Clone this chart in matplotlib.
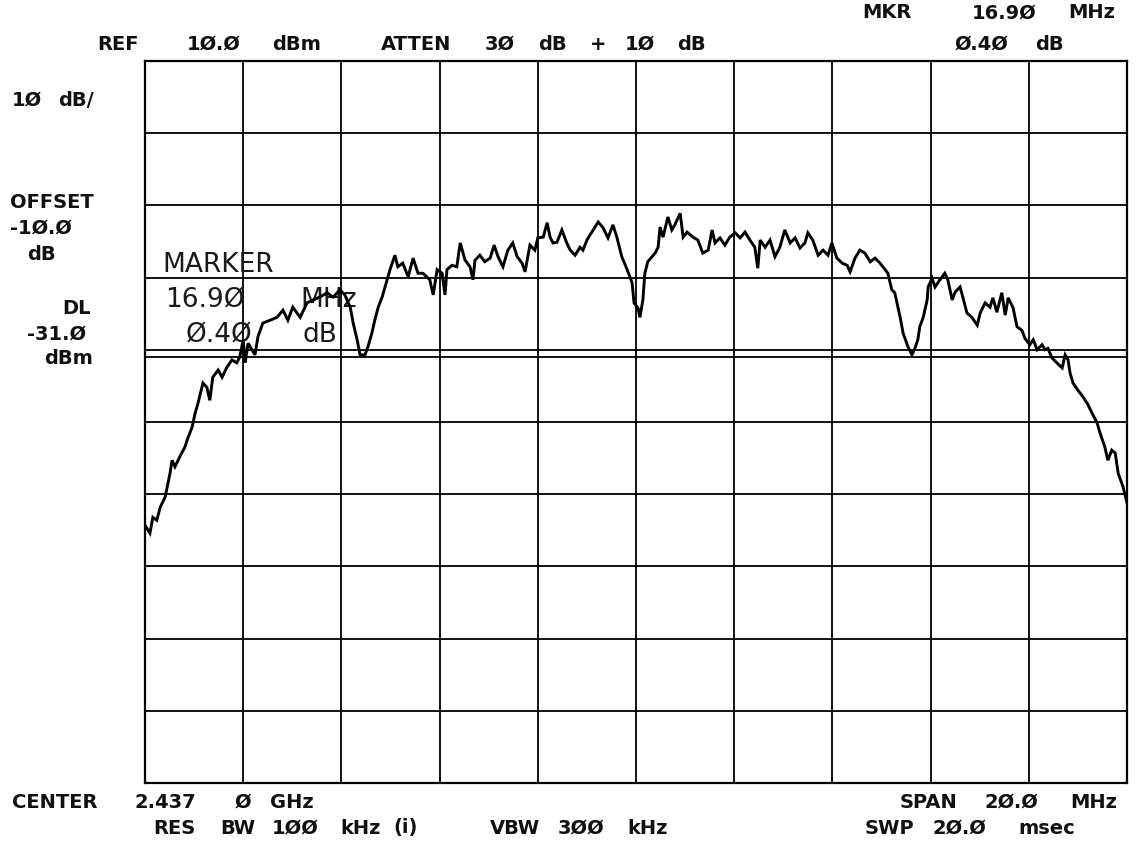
import matplotlib
matplotlib.use("Agg")
import matplotlib.pyplot as plt

# Spectrum analyzer sweep: frequency offset from centre (MHz) and level (dBm)
freq_mhz = [
    -10.00, -9.90, -9.84, -9.76, -9.69, -9.59, -9.49, -9.45, -9.39, -9.29,
    -9.19, -9.12, -9.04, -8.98, -8.92, -8.82, -8.74, -8.68, -8.62, -8.51,
    -8.43, -8.33, -8.23, -8.13, -8.07, -8.00, -7.96, -7.90, -7.76, -7.70,
    -7.60, -7.45, -7.31, -7.19, -7.09, -6.99, -6.84, -6.70, -6.58, -6.44,
    -6.29, -6.17, -6.03, -5.93, -5.82, -5.76, -5.68, -5.62, -5.52, -5.46,
    -5.38, -5.32, -5.25, -5.17, -5.07, -5.01, -4.91, -4.85, -4.75, -4.64,
    -4.54, -4.44, -4.34, -4.20, -4.13, -4.05, -3.95, -3.89, -3.85, -3.75,
    -3.65, -3.58, -3.48, -3.38, -3.32, -3.28, -3.18, -3.08, -2.97, -2.89,
    -2.81, -2.71, -2.61, -2.51, -2.42, -2.32, -2.26, -2.16, -2.06, -2.00,
    -1.89, -1.81, -1.75, -1.69, -1.61, -1.51, -1.41, -1.34, -1.24, -1.14,
    -1.08, -1.00, -0.90, -0.77, -0.67, -0.57, -0.47, -0.39, -0.29, -0.18,
    -0.08, -0.04, 0.04, 0.08, 0.14, 0.18, 0.24, 0.39, 0.45, 0.49,
    0.55, 0.65, 0.73, 0.79, 0.90, 0.96, 1.04, 1.16, 1.26, 1.36,
    1.47, 1.55, 1.61, 1.71, 1.81, 1.91, 2.02, 2.12, 2.22, 2.32,
    2.42, 2.48, 2.53, 2.63, 2.73, 2.83, 2.93, 3.03, 3.14, 3.24,
    3.34, 3.44, 3.50, 3.60, 3.71, 3.81, 3.91, 3.99, 4.09, 4.20,
    4.30, 4.36, 4.46, 4.56, 4.66, 4.77, 4.87, 4.97, 5.13, 5.21,
    5.27, 5.38, 5.44, 5.54, 5.62, 5.68, 5.74, 5.78, 5.85, 5.93,
    5.95, 6.03, 6.09, 6.19, 6.29, 6.35, 6.44, 6.50, 6.60, 6.66,
    6.74, 6.84, 6.95, 7.01, 7.11, 7.21, 7.27, 7.35, 7.45, 7.52,
    7.58, 7.68, 7.76, 7.86, 7.92, 8.02, 8.09, 8.17, 8.27, 8.33,
    8.39, 8.47, 8.57, 8.68, 8.74, 8.80, 8.84, 8.90, 9.00, 9.08,
    9.19, 9.29, 9.39, 9.45, 9.55, 9.61, 9.69, 9.76, 9.82, 9.92,
    10.00,
]
level_dbm = [
    -54.3, -55.4, -53.2, -53.6, -51.8, -50.4, -47.1, -45.3, -46.2, -44.8,
    -43.5, -42.1, -40.7, -38.8, -37.4, -34.6, -35.2, -37.0, -33.8, -32.8,
    -33.8, -32.4, -31.4, -31.8, -31.0, -28.6, -31.8, -29.1, -30.7, -28.2,
    -26.3, -25.9, -25.5, -24.5, -25.9, -24.1, -25.5, -23.5, -23.1, -22.7,
    -22.1, -22.7, -21.7, -22.4, -24.1, -26.3, -28.6, -30.7, -30.7, -29.6,
    -27.7, -25.9, -24.1, -22.7, -20.3, -18.9, -16.9, -18.5, -18.0, -19.9,
    -17.3, -19.4, -19.4, -20.3, -22.4, -18.9, -19.4, -22.4, -18.9, -18.3,
    -18.5, -15.2, -17.6, -18.5, -20.3, -17.6, -16.9, -17.8, -17.3, -15.5,
    -17.1, -18.5, -16.2, -15.2, -17.1, -18.0, -19.2, -15.5, -16.2, -14.5,
    -14.4, -12.4, -14.4, -15.2, -15.1, -13.4, -15.2, -16.2, -16.9, -15.8,
    -16.2, -14.8, -13.7, -12.3, -13.1, -14.5, -12.7, -14.4, -17.1, -18.9,
    -20.7, -23.5, -24.2, -25.5, -23.1, -19.4, -17.8, -16.6, -15.8, -13.0,
    -14.4, -11.6, -13.4, -12.7, -11.1, -14.4, -13.7, -14.4, -14.8, -16.6,
    -16.2, -13.4, -15.2, -14.5, -15.5, -14.4, -13.8, -14.5, -13.7, -14.8,
    -15.8, -18.7, -14.8, -15.8, -14.8, -17.1, -15.8, -13.4, -15.2, -14.5,
    -15.9, -15.2, -13.8, -14.8, -16.9, -16.2, -16.9, -15.2, -17.3, -18.0,
    -18.3, -19.2, -17.3, -16.2, -16.6, -17.8, -17.3, -18.0, -19.4, -21.7,
    -22.1, -25.5, -27.7, -29.6, -30.7, -29.8, -28.6, -26.8, -25.5, -23.1,
    -21.3, -20.1, -21.3, -20.3, -19.4, -20.3, -23.1, -22.0, -21.3, -22.8,
    -24.9, -25.5, -26.6, -24.9, -23.5, -24.1, -22.8, -24.8, -22.1, -25.2,
    -22.8, -24.2, -26.8, -27.3, -28.4, -29.3, -28.6, -30.0, -29.3, -30.0,
    -29.8, -31.1, -31.8, -32.5, -30.7, -31.4, -33.2, -34.6, -35.6, -36.3,
    -37.4, -38.8, -40.1, -41.5, -43.5, -45.3, -43.9, -44.3, -47.1, -49.0,
    -51.2,
]

ref_level_dbm = 10.0
db_per_div = 10.0
span_mhz = 20.0
display_line_dbm = -31.0

W, H = 1136, 842
fig = plt.figure(figsize=(W / 100, H / 100), dpi=100)
fig.patch.set_facecolor("white")

# graticule: 10 x 10 divisions
ax = fig.add_axes([145 / W, 1 - 783 / H, (1127 - 145) / W, (783 - 61) / H])
ax.set_xlim(-span_mhz / 2, span_mhz / 2)
ax.set_ylim(ref_level_dbm - 10 * db_per_div, ref_level_dbm)
ax.set_xticks([-span_mhz / 2 + i * span_mhz / 10 for i in range(11)])
ax.set_yticks([ref_level_dbm - i * db_per_div for i in range(11)])
ax.tick_params(length=0, labelbottom=False, labelleft=False)
ax.grid(True, color="black", linewidth=1.3)
for s in ax.spines.values():
    s.set_linewidth(1.6)
    s.set_color("black")

# display line
ax.axhline(display_line_dbm, color="black", linewidth=1.3, zorder=3)

# trace
ax.plot(freq_mhz, level_dbm, color="black", linewidth=2.1, zorder=4,
        solid_joinstyle="miter")

# marker readout inside the graticule
mk = dict(fontsize=19, family="DejaVu Sans", color="#1a1a1a", zorder=2,
          va="center", ha="left", transform=fig.transFigure)
ax.text(162 / W, 1 - 265 / H, "MARKER", **mk)
ax.text(165 / W, 1 - 300 / H, "16.9Ø", **mk)
ax.text(300 / W, 1 - 300 / H, "MHz", **mk)
ax.text(186 / W, 1 - 335 / H, "Ø.4Ø", **mk)
ax.text(302 / W, 1 - 335 / H, "dB", **mk)

# annotation text around the graticule
tk = dict(fontsize=14, family="DejaVu Sans", fontweight="bold",
          color="#111111", va="center")


def label(x, y, s, ha="left"):
    fig.text(x / W, 1 - y / H, s, ha=ha, **tk)


label(97, 44, "REF")
label(187, 44, "1Ø.Ø")
label(272, 44, "dBm")
label(381, 44, "ATTEN")
label(485, 44, "3Ø")
label(538, 44, "dB")
label(590, 44, "+")
label(625, 44, "1Ø")
label(677, 44, "dB")
label(862, 13, "MKR")
label(972, 13, "16.9Ø")
label(1068, 13, "MHz")
label(955, 44, "Ø.4Ø")
label(1035, 44, "dB")

label(12, 100, "1Ø")
label(58, 100, "dB/")
label(10, 202, "OFFSET")
label(10, 228, "-1Ø.Ø")
label(27, 254, "dB")
label(62, 309, "DL")
label(27, 334, "-31.Ø")
label(44, 358, "dBm")

label(12, 802, "CENTER")
label(134, 802, "2.437")
label(235, 802, "Ø")
label(270, 802, "GHz")
label(153, 828, "RES")
label(220, 828, "BW")
label(272, 828, "1ØØ")
label(340, 828, "kHz")
label(393, 828, "(i)")
label(490, 828, "VBW")
label(558, 828, "3ØØ")
label(627, 828, "kHz")
label(900, 802, "SPAN")
label(985, 802, "2Ø.Ø")
label(1070, 802, "MHz")
label(865, 828, "SWP")
label(932, 828, "2Ø.Ø")
label(1018, 828, "msec")

fig.savefig("out.png", dpi=100)
